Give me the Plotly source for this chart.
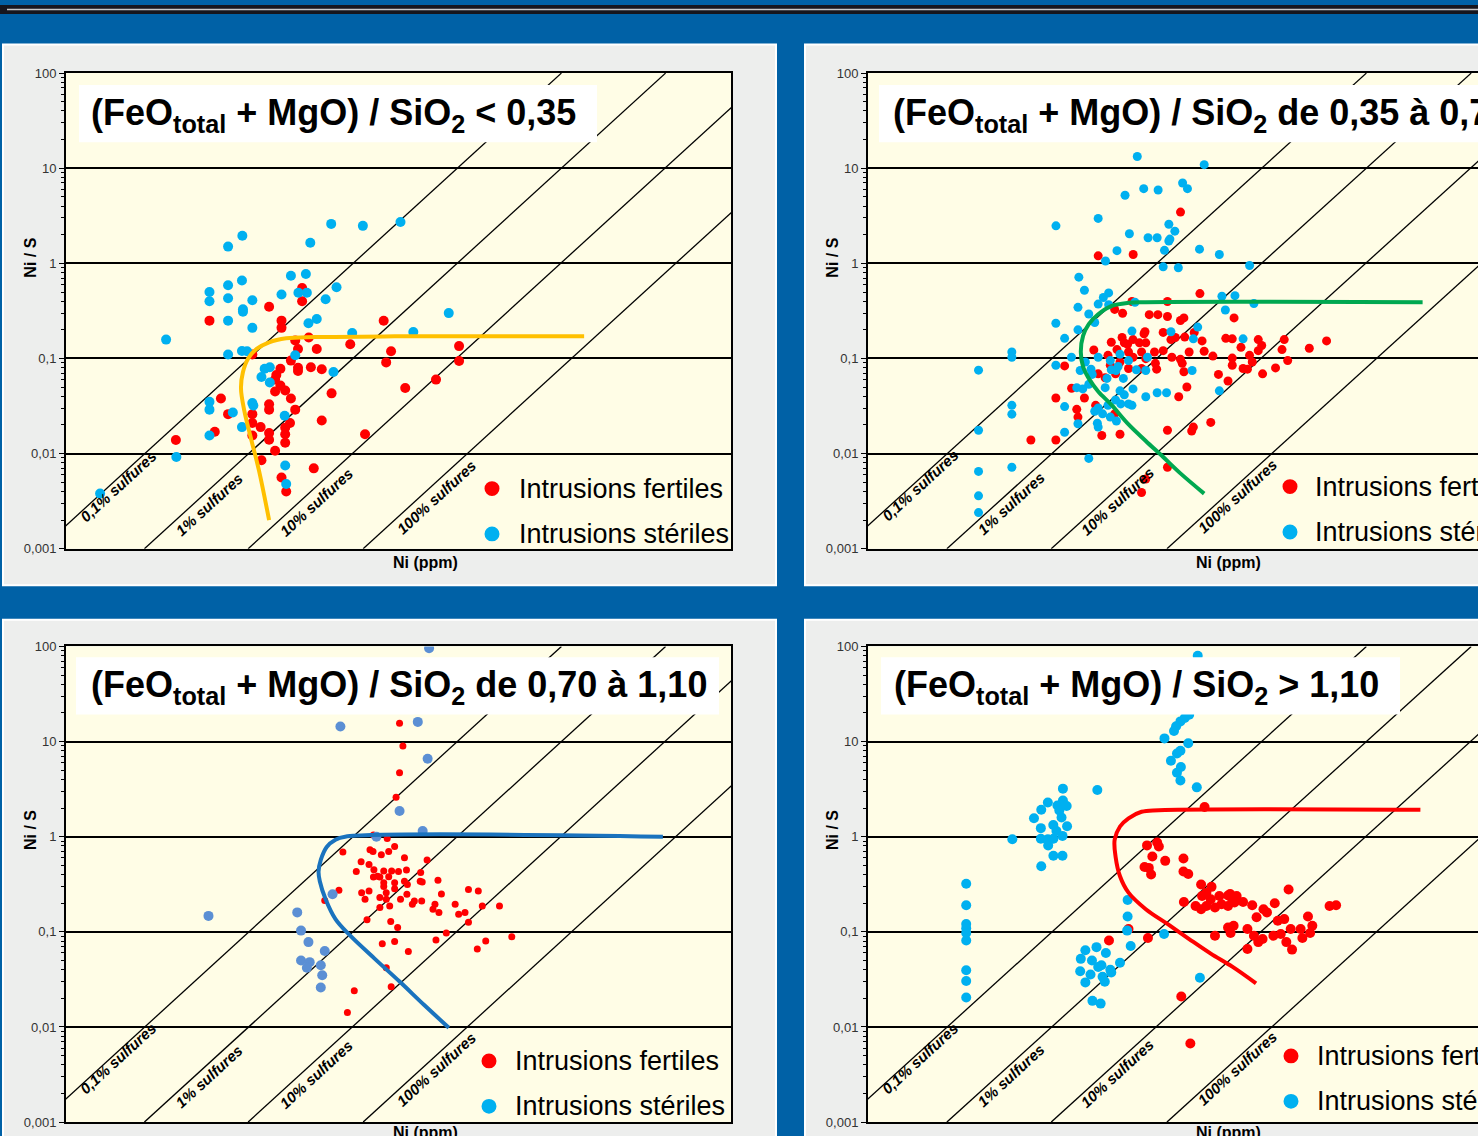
import plotly.graph_objects as go

W, H = 1478, 1136

# ---------------- data ----------------
TICK_NI = [10, 100, 1000, 10000, 100000, 1000000]
TICK_NI_TEXT = ["10", "100", "1000", "10000", "100000", "1000000"]
TICK_NIS = [0.001, 0.01, 0.1, 1, 10, 100]
TICK_NIS_TEXT = ["0,001", "0,01", "0,1", "1", "10", "100"]

SULF_LABELS = ["0,1% sulfures", "1% sulfures", "10% sulfures", "100% sulfures"]
SULF_NI_AT_LOW = [0.59, 5.1, 44, 480]             # Ni where each line meets Ni/S = 0.001
SULF_NI_AT_HIGH = [29500, 257000, 2.2e6, 2.4e7]   # Ni where each line meets Ni/S = 100
SULF_NIS_ENDS = [0.001, 100]

TITLES = [
    "<b>(FeO<sub>total</sub> + MgO) / SiO<sub>2</sub> &lt; 0,35</b>",
    "<b>(FeO<sub>total</sub> + MgO) / SiO<sub>2</sub> de 0,35 à 0,70</b>",
    "<b>(FeO<sub>total</sub> + MgO) / SiO<sub>2</sub> de 0,70 à 1,10</b>",
    "<b>(FeO<sub>total</sub> + MgO) / SiO<sub>2</sub> &gt; 1,10</b>",
]
LEGEND_LABELS = ["Intrusions fertiles", "Intrusions stériles"]

# (Ni ppm, Ni/S)
P1_FERTILES = [(135, 0.55), (135, 0.40), (68, 0.35), (19.7, 0.25), (88, 0.25), (88, 0.21), (117, 0.155),
               (155, 0.166), (183, 0.126), (124, 0.126), (124, 0.080), (124, 0.074), (107, 0.095), (162, 0.081),
               (203, 0.077), (367, 0.141), (735, 0.249), (857, 0.119), (774, 0.091), (3520, 0.135), (3520, 0.094),
               (48, 0.11), (86, 0.078), (79, 0.067), (77, 0.060), (86, 0.052), (95, 0.046), (77, 0.045),
               (107, 0.038), (249, 0.043), (25, 0.038), (29, 0.026), (68, 0.033), (68, 0.029), (117, 0.029),
               (48, 0.026), (48, 0.021), (105, 0.021), (57, 0.019), (95, 0.0187), (95, 0.016), (68, 0.0165),
               (68, 0.014), (48, 0.0155), (95, 0.013), (77, 0.0107), (22, 0.017), (9.8, 0.0139), (203, 0.0223),
               (499, 0.016), (1150, 0.049), (2180, 0.060), (58, 0.0085), (172, 0.007), (88, 0.0056), (97, 0.0040)]
P1_STERILES = [(29, 1.5), (39, 1.95), (160, 1.65), (247, 2.6), (477, 2.48), (1042, 2.72), (107, 0.74),
               (146, 0.774), (38.7, 0.66), (29, 0.59), (19.7, 0.50), (19.7, 0.40), (29, 0.43), (39.5, 0.33),
               (39.5, 0.31), (48, 0.41), (29, 0.25), (48, 0.21), (88, 0.47), (125, 0.49), (149, 0.49),
               (220, 0.42), (276, 0.56), (154, 0.235), (183, 0.26), (8.0, 0.158), (29, 0.11), (38.7, 0.12),
               (43, 0.119), (117, 0.108), (62, 0.078), (69, 0.081), (58, 0.064), (69, 0.056), (259, 0.072),
               (382, 0.185), (1360, 0.19), (2840, 0.30), (19.7, 0.035), (19.7, 0.029), (48, 0.034), (49, 0.032),
               (32, 0.027), (38.7, 0.019), (19.7, 0.0155), (94, 0.025), (9.9, 0.0092), (95, 0.0075),
               (97, 0.0048), (2.03, 0.0038)]
P1_CURVE = [(47300, 0.171), (921, 0.171), (179, 0.168), (97, 0.163), (68, 0.148), (52.5, 0.126), (44, 0.10),
            (39.5, 0.072), (37.9, 0.0487), (40.7, 0.028), (46.4, 0.0148), (55, 0.0067), (68, 0.0020)]

P2_FERTILES = [(635, 3.46), (116, 1.2), (239, 1.24), (948, 0.481), (485, 0.397), (233, 0.397), (163, 0.328),
               (192, 0.299), (333, 0.289), (398, 0.289), (485, 0.276), (634, 0.251), (681, 0.267), (1919, 0.267),
               (305, 0.191), (299, 0.182), (190, 0.166), (238, 0.158), (152, 0.148), (199, 0.146), (213, 0.141),
               (310, 0.146), (272, 0.146), (444, 0.188), (570, 0.166), (693, 0.168), (843, 0.188), (521, 0.158),
               (991, 0.153), (1618, 0.163), (1849, 0.161), (3162, 0.158), (3396, 0.137), (5408, 0.158),
               (5164, 0.124), (9078, 0.128), (12970, 0.153), (2213, 0.131), (2642, 0.108), (3162, 0.121),
               (106, 0.123), (142, 0.108), (171, 0.124), (217, 0.117), (284, 0.117), (371, 0.117), (531, 0.103),
               (634, 0.098), (759, 0.117), (1035, 0.119), (1239, 0.106), (1849, 0.101), (1849, 0.085),
               (2793, 0.092), (5808, 0.095), (4519, 0.0797), (3459, 0.069), (2312, 0.0785), (2529, 0.0773),
               (1390, 0.068), (1694, 0.058), (58, 0.0836), (116, 0.069), (134, 0.0628), (166, 0.069),
               (217, 0.0785), (284, 0.0785), (388, 0.0773), (658, 0.089), (681, 0.0725), (724, 0.0502),
               (612, 0.0396), (48.4, 0.0384), (67, 0.0486), (87.3, 0.0384), (74.5, 0.0292), (76.4, 0.0242),
               (110, 0.0322), (163, 0.0262), (28.9, 0.0139), (48.4, 0.0139), (125, 0.0155), (182, 0.016),
               (485, 0.0176), (800, 0.0173), (1186, 0.0213), (828, 0.019), (485, 0.0072), (310, 0.0054),
               (284, 0.0039), (444, 0.121), (378, 0.089), (310, 0.0996), (238, 0.103), (182, 0.092), (149, 0.085)]
P2_STERILES = [(260, 13.3), (1036, 10.9), (297, 6.1), (400, 5.9), (663, 7.0), (733, 6.1), (202, 5.2),
               (116, 2.97), (499, 2.58), (565, 2.18), (221, 2.05), (48.5, 2.48), (325, 1.86), (392, 1.86),
               (499, 1.72), (510, 1.80), (456, 1.37), (171, 1.36), (940, 1.41), (1416, 1.24), (135, 1.06),
               (2644, 0.95), (444, 0.92), (607, 0.90), (77.8, 0.716), (87.3, 0.521), (129, 0.438), (144, 0.489),
               (116, 0.373), (76.4, 0.345), (95.5, 0.294), (144, 0.367), (48.4, 0.235), (76.4, 0.200),
               (58, 0.163), (108, 0.239), (233, 0.194), (248, 0.39), (321, 0.103), (116, 0.103), (149, 0.095),
               (182, 0.111), (217, 0.095), (255, 0.076), (310, 0.0748), (167.5, 0.0748), (195, 0.0618),
               (175, 0.0823), (139, 0.0618), (102.6, 0.068), (80, 0.0748), (66.8, 0.103), (48.4, 0.085),
               (19.5, 0.117), (19.5, 0.103), (9.8, 0.0754), (74.5, 0.0494), (84.3, 0.0479), (95.5, 0.0535),
               (134, 0.0494), (182, 0.0457), (199, 0.0415), (166, 0.0366), (185, 0.0333), (238, 0.0479),
               (310, 0.0396), (392, 0.0436), (521, 0.191), (906, 0.214), (807, 0.0748), (828, 0.161),
               (2312, 0.161), (1493, 0.451), (1954, 0.458), (1603, 0.323), (2891, 0.379), (116, 0.0302),
               (142, 0.0322), (127, 0.0262), (108, 0.0279), (169, 0.022), (149, 0.0242), (217, 0.0333),
               (233, 0.0322), (58, 0.0312), (76.4, 0.0206), (114, 0.0209), (116, 0.019), (58, 0.0168),
               (19.5, 0.0322), (19.5, 0.026), (9.8, 0.0176), (19.5, 0.0072), (9.8, 0.0065), (9.8, 0.0036),
               (9.8, 0.0024), (95.5, 0.0089), (1416, 0.0457), (476, 0.0436), (89, 0.092), (100, 0.0773),
               (152, 0.076)]
P2_CURVE = [(94200, 0.391), (310, 0.391), (217, 0.385), (152, 0.356), (116, 0.292), (95.5, 0.230), (85, 0.174),
            (81, 0.117), (85, 0.0816), (95.5, 0.0618), (116, 0.045), (152, 0.0327), (217, 0.0203),
            (310, 0.0136), (444, 0.0092), (634, 0.0062), (1035, 0.0038)]

P3_FERTILES = [(1022, 15.6), (1096, 9.0), (1022, 4.7), (951, 2.6), (594, 1.04), (791, 0.96), (315, 0.69),
               (553, 0.73), (589, 0.70), (700, 0.645), (816, 0.70), (923, 0.79), (1132, 0.60), (1811, 0.57),
               (460, 0.546), (542, 0.51), (416, 0.43), (600, 0.45), (736, 0.437), (867, 0.437), (1180, 0.447),
               (1585, 0.42), (816, 0.38), (646, 0.384), (2270, 0.348), (1637, 0.333), (736, 0.327), (923, 0.327),
               (1132, 0.34), (290, 0.273), (216, 0.214), (465, 0.258), (499, 0.22), (542, 0.268), (679, 0.229),
               (775, 0.258), (833, 0.187), (923, 0.284), (1043, 0.22), (1191, 0.248), (1390, 0.211),
               (1619, 0.211), (1334, 0.195), (2133, 0.195), (2047, 0.173), (2316, 0.16), (2439, 0.25),
               (3245, 0.195), (3489, 0.153), (4279, 0.279), (5248, 0.268), (3981, 0.16), (4279, 0.126),
               (5702, 0.187), (8150, 0.187), (520, 0.134), (851, 0.128), (982, 0.111), (2698, 0.097),
               (2178, 0.082), (6124, 0.080), (10520, 0.089), (5140, 0.066), (714, 0.075), (923, 0.079),
               (1227, 0.062), (776, 0.042), (859, 0.0265), (399, 0.024), (346, 0.0142), (594, 0.378),
               (1000, 0.43), (679, 0.378), (736, 0.30), (1202, 0.315), (1570, 0.34), (776, 0.22), (679, 0.18)]
P3_STERILES = [(1888, 96), (299, 14.4), (1493, 16.1), (1832, 6.6), (1022, 1.86), (1652, 1.15), (632, 1.0),
               (254, 0.248), (122, 0.16), (132, 0.103), (154, 0.078), (216, 0.063), (132, 0.050), (158, 0.048),
               (149, 0.042), (199, 0.0445), (205, 0.035), (199, 0.026), (19.3, 0.147)]
P3_CURVE = [(243000, 1.0), (330, 1.0), (270, 0.93), (225, 0.78), (199, 0.57), (190, 0.43), (195, 0.34),
            (220, 0.22), (270, 0.136), (367, 0.091), (612, 0.052), (1023, 0.030), (1706, 0.017), (2846, 0.0098)]

P4_FERTILES = [(1044, 2.05), (318, 0.81), (392, 0.87), (406, 0.79), (355, 0.62), (463, 0.557), (675, 0.59),
               (302, 0.48), (330, 0.47), (346, 0.40), (675, 0.43), (745, 0.405), (972, 0.314), (1205, 0.297),
               (5916, 0.279), (1770, 0.25), (1084, 0.257), (991, 0.238), (1186, 0.22), (1416, 0.238),
               (1694, 0.241), (1849, 0.22), (2023, 0.238), (1084, 0.187), (1294, 0.18), (1482, 0.195),
               (1694, 0.187), (1936, 0.203), (2312, 0.206), (2793, 0.19), (681, 0.206), (867, 0.187),
               (972, 0.173), (3054, 0.142), (3524, 0.173), (3784, 0.16), (4446, 0.2), (4731, 0.131),
               (5408, 0.136), (6182, 0.107), (7586, 0.107), (8831, 0.145), (9660, 0.116), (13800, 0.187),
               (15780, 0.19), (1294, 0.091), (1694, 0.111), (1901, 0.116), (1786, 0.097), (2529, 0.107),
               (2891, 0.091), (3162, 0.078), (3459, 0.084), (4325, 0.091), (5035, 0.095), (5649, 0.078),
               (6353, 0.065), (7870, 0.086), (9230, 0.097), (2529, 0.066), (145, 0.081), (324, 0.086),
               (645, 0.0209), (778, 0.0067), (217, 0.107)]
P4_STERILES = [(906, 80), (759, 19.1), (693, 17.7), (634, 16.3), (580, 14.5), (555, 12.9), (456, 10.8),
               (745, 9.6), (634, 8.0), (590, 7.5), (521, 6.3), (640, 5.4), (590, 4.7), (634, 3.9), (889, 3.3),
               (114, 3.1), (56, 3.2), (56, 2.4), (60.5, 2.1), (50, 2.13), (41, 2.29), (35.8, 1.92), (52, 1.89),
               (30.8, 1.56), (54.4, 1.59), (45.9, 1.33), (61, 1.29), (35.5, 1.23), (49, 1.15), (55.5, 1.02),
               (19.7, 0.94), (35.5, 0.95), (41, 0.94), (46, 0.95), (41.3, 0.81), (46, 0.63), (55.5, 0.63),
               (35.8, 0.49), (7.6, 0.32), (7.6, 0.19), (7.6, 0.121), (7.6, 0.109), (7.6, 0.097), (7.6, 0.081),
               (7.6, 0.0395), (7.6, 0.0304), (7.6, 0.0204), (213, 0.216), (213, 0.145), (211, 0.103),
               (227, 0.071), (452, 0.095), (948, 0.0329), (89, 0.064), (112, 0.069), (136, 0.060), (81, 0.052),
               (102, 0.050), (124, 0.0446), (149, 0.040), (182, 0.0474), (80, 0.0385), (99, 0.0356),
               (127, 0.0337), (133, 0.0299), (89, 0.0294), (116, 0.0428), (103, 0.0188), (122, 0.0176),
               (152, 0.0373)]
P4_CURVE = [(90000, 1.92), (405, 1.9), (284, 1.83), (217, 1.56), (182, 1.28), (163, 0.93), (166, 0.62),
            (182, 0.384), (217, 0.258), (310, 0.173), (485, 0.121), (759, 0.084), (1186, 0.059), (1849, 0.043),
            (3020, 0.0287)]

# ---------------- styling / layout ----------------
BLUE_BG = "#0061A6"
PANEL_GRAY = "#EDEEED"
CREAM = "#FFFDE6"
RED = "#FF0000"
CYAN = "#00B0F0"
FONT = "Liberation Sans, Arial, sans-serif"


def X(px):
    return px / W


def Y(py):
    return 1 - py / H


panels = [
    dict(x0=66, x1=731, y0=67, y1=549, xmax=6.0, fert=P1_FERTILES, ster=P1_STERILES, curve=P1_CURVE,
         ccol="#FFC000", scol=CYAN, fs=10, ss=10, frame=(3, 38, 776, 586), box=(79, 79, 597, 137), tx=89,
         leg=(492, 488, 517), sulf=[(118, 486), (209, 504), (316, 502), (436, 497)], nis=(31, 254),
         nip=(425, 563)),
    dict(x0=868, x1=W, y0=67, y1=549, xmax=(W - 868) / 111.5, fert=P2_FERTILES, ster=P2_STERILES,
         curve=P2_CURVE, ccol="#00A850", scol=CYAN, fs=9, ss=9, frame=(805, 38, 1500, 586),
         box=(879, 79, 1500, 137), tx=891, leg=(1290, 486, 1313),
         sulf=[(920, 485), (1011, 503), (1117, 501), (1237, 496)], nis=(833, 254), nip=(1228, 563)),
    dict(x0=66, x1=731, y0=648, y1=1130, xmax=6.0, fert=P3_FERTILES, ster=P3_STERILES, curve=P3_CURVE,
         ccol="#1A73BE", scol="#5B8FD4", fs=7, ss=10, frame=(3, 621, 776, 1150), box=(76, 659, 719, 717),
         tx=89, leg=(489, 1068, 513), sulf=[(118, 1066), (209, 1084), (316, 1082), (436, 1077)],
         nis=(31, 834), nip=(425, 1141)),
    dict(x0=868, x1=W, y0=648, y1=1130, xmax=(W - 868) / 111.5, fert=P4_FERTILES, ster=P4_STERILES,
         curve=P4_CURVE, ccol=RED, scol=CYAN, fs=10, ss=10, frame=(805, 621, 1500, 1150),
         box=(881, 659, 1400, 717), tx=892, leg=(1291, 1063, 1315),
         sulf=[(920, 1066), (1011, 1083), (1117, 1081), (1237, 1076)], nis=(833, 834), nip=(1228, 1141)),
]

MINOR = [m * 10.0 ** e for e in range(-3, 7) for m in range(2, 10)]

fig = go.Figure()
layout = dict(width=W, height=H, margin=dict(l=0, r=0, t=0, b=0), paper_bgcolor=BLUE_BG,
              plot_bgcolor=CREAM, showlegend=False, font=dict(family=FONT, color="black"))
shapes = []
annotations = []

# top dark bar
shapes.append(dict(type="rect", xref="paper", yref="paper", x0=-0.01, x1=1.01, y0=Y(7), y1=Y(-2),
                   fillcolor="#16161E", line=dict(width=0), layer="below"))
shapes.append(dict(type="line", xref="paper", yref="paper", x0=X(7), x1=1.01, y0=Y(2.5), y1=Y(2.5),
                   line=dict(color="#C8C8C8", width=1.6), layer="below"))

for i, p in enumerate(panels, start=1):
    sfx = "" if i == 1 else str(i)
    xa, ya = "x" + sfx, "y" + sfx
    yone = p["y1"] - 3 * (p["y1"] - p["y0"]) / 5.0
    right_panel = p["x1"] >= W

    # sulphide reference lines
    for k in range(4):
        fig.add_trace(go.Scatter(x=[SULF_NI_AT_LOW[k], SULF_NI_AT_HIGH[k]], y=SULF_NIS_ENDS, mode="lines",
                                 line=dict(color="black", width=1.3), xaxis=xa, yaxis=ya, hoverinfo="skip"))
    fig.add_trace(go.Scatter(x=[a for a, b in p["fert"]], y=[b for a, b in p["fert"]], mode="markers",
                             marker=dict(color=RED, size=p["fs"], line=dict(width=0)), xaxis=xa, yaxis=ya,
                             name=LEGEND_LABELS[0]))
    fig.add_trace(go.Scatter(x=[a for a, b in p["ster"]], y=[b for a, b in p["ster"]], mode="markers",
                             marker=dict(color=p["scol"], size=p["ss"], line=dict(width=0)), xaxis=xa, yaxis=ya,
                             name=LEGEND_LABELS[1]))
    fig.add_trace(go.Scatter(x=[a for a, b in p["curve"]], y=[b for a, b in p["curve"]], mode="lines",
                             line=dict(color=p["ccol"], width=4, shape="spline", smoothing=1.0),
                             xaxis=xa, yaxis=ya, hoverinfo="skip"))

    xdom = [X(p["x0"]), min(X(p["x1"]), 1.0)]
    ydom = [Y(p["y1"]), Y(p["y0"])]
    layout["xaxis" + sfx] = dict(type="log", range=[0, p["xmax"]], domain=xdom, anchor=ya,
                                 showticklabels=False, ticks="", showgrid=False, zeroline=False,
                                 showline=True, linecolor="black", linewidth=2, mirror=True)
    layout["yaxis" + sfx] = dict(type="log", range=[-3, 2], domain=ydom, anchor=xa, tickmode="array",
                                 tickvals=TICK_NIS, ticktext=TICK_NIS_TEXT, ticks="outside", ticklen=5,
                                 tickwidth=1, tickcolor="black", showgrid=True, gridcolor="black", gridwidth=2,
                                 showline=True, linecolor="black", linewidth=2, mirror=not right_panel,
                                 zeroline=False, tickfont=dict(size=13, color="#333333", family=FONT),
                                 minor=dict(tickmode="array", tickvals=MINOR, ticks="outside", ticklen=3,
                                            tickwidth=1, tickcolor="black", showgrid=False))
    layout["xaxis" + str(i + 4)] = dict(type="log", range=[0, p["xmax"]], overlaying=xa, anchor="free",
                                        position=Y(yone), side="bottom", tickmode="array", tickvals=TICK_NI,
                                        ticktext=TICK_NI_TEXT, ticks="outside", ticklen=4, tickwidth=1,
                                        tickcolor="black", showgrid=False, showline=False, zeroline=False,
                                        ticklabelstandoff=4,
                                        tickfont=dict(size=13, color="#333333", family=FONT),
                                        minor=dict(tickmode="array", tickvals=MINOR, ticks="outside", ticklen=3,
                                                   tickwidth=1, tickcolor="black", showgrid=False))

    # panel frame and cream plotting area
    fx0, fy0, fx1, fy1 = p["frame"]
    shapes.append(dict(type="rect", xref="paper", yref="paper", x0=X(fx0), x1=X(fx1), y0=Y(fy1), y1=Y(fy0),
                       fillcolor=PANEL_GRAY, line=dict(color="#FFFFFF", width=2), layer="below"))
    shapes.append(dict(type="rect", xref="paper", yref="paper", x0=X(p["x0"]),
                       x1=(1.01 if right_panel else X(p["x1"])),
                       y0=Y(p["y1"]), y1=Y(p["y0"]), fillcolor=CREAM, line=dict(width=0), layer="below"))
    # title box
    bx0, by0, bx1, by1 = p["box"]
    shapes.append(dict(type="rect", xref="paper", yref="paper", x0=X(bx0), x1=X(bx1), y0=Y(by1), y1=Y(by0),
                       fillcolor="white", line=dict(width=0), layer="above"))
    annotations.append(dict(text=TITLES[i - 1], xref="paper", yref="paper", x=X(p["tx"]),
                            y=Y((by0 + by1) / 2 + 1), xanchor="left", yanchor="middle", showarrow=False,
                            font=dict(size=36, family=FONT, color="black")))
    # legend
    lx, ly, ltx = p["leg"]
    for k, col in enumerate([RED, CYAN]):
        cy = ly + 46 * k
        shapes.append(dict(type="circle", xref="paper", yref="paper", x0=X(lx - 7.5), x1=X(lx + 7.5),
                           y0=Y(cy + 7.5), y1=Y(cy - 7.5), fillcolor=col, line=dict(width=0), layer="above"))
        annotations.append(dict(text=LEGEND_LABELS[k], xref="paper", yref="paper", x=X(ltx), y=Y(cy),
                                xanchor="left", yanchor="middle", showarrow=False,
                                font=dict(size=27, family=FONT, color="black")))
    # sulphide labels
    for k, (sx, sy) in enumerate(p["sulf"]):
        annotations.append(dict(text="<b><i>" + SULF_LABELS[k] + "</i></b>", xref="paper", yref="paper",
                                x=X(sx), y=Y(sy), xanchor="center", yanchor="middle", showarrow=False,
                                textangle=-42.5, font=dict(size=15, family=FONT, color="black")))
    # axis titles
    annotations.append(dict(text="<b>Ni / S</b>", xref="paper", yref="paper", x=X(p["nis"][0]),
                            y=Y(p["nis"][1]), xanchor="center", yanchor="middle", showarrow=False,
                            textangle=-90, font=dict(size=16, family=FONT, color="black")))
    annotations.append(dict(text="<b>Ni (ppm)</b>", xref="paper", yref="paper", x=X(p["nip"][0]),
                            y=Y(p["nip"][1]), xanchor="center", yanchor="middle", showarrow=False,
                            font=dict(size=16, family=FONT, color="black")))

layout["shapes"] = shapes
layout["annotations"] = annotations
fig.update_layout(**layout)
fig.write_html("out.html", config={"displayModeBar": False},
               post_script=("document.documentElement.style.margin='0';"
                            "document.body.style.margin='0';document.body.style.padding='0';"
                            "document.documentElement.style.overflow='hidden';"
                            "var gd=document.getElementsByClassName('plotly-graph-div')[0];"
                            "gd.style.position='fixed';gd.style.left='0px';gd.style.top='0px';"))
